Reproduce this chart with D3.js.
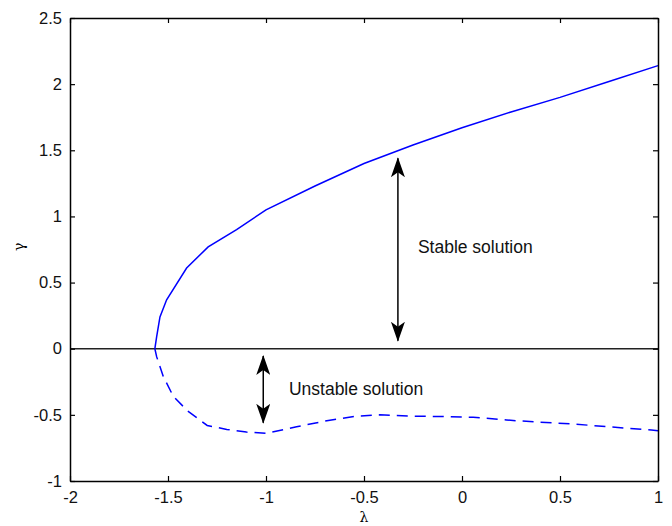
<!DOCTYPE html>
<html><head><meta charset="utf-8">
<script src="https://cdn.jsdelivr.net/npm/d3@7"></script>
<style>
body{margin:0;background:#fff;}
svg{display:block;font-family:"Liberation Sans",Arial,sans-serif;}
</style></head>
<body><svg id="c" width="672" height="526"></svg>
<script>
const xTicks = [-2, -1.5, -1, -0.5, 0, 0.5, 1];
const yTicks = [-1, -0.5, 0, 0.5, 1, 1.5, 2, 2.5];
const stableX = [-1.567, -1.558, -1.541, -1.507, -1.405, -1.295, -1.15, -1.0, -0.75, -0.5, -0.25, 0, 0.25, 0.5, 0.75, 1.0];
const stableY = [0, 0.09, 0.24, 0.37, 0.61, 0.77, 0.90, 1.05, 1.23, 1.40, 1.54, 1.67, 1.79, 1.90, 2.02, 2.14];
const unstableX = [-1.567, -1.558, -1.524, -1.473, -1.40, -1.30, -1.20, -1.10, -1.0, -0.844, -0.674, -0.538, -0.42, -0.25, -0.08, 0.057, 0.227, 0.397, 0.567, 0.737, 0.966, 1.0];
const unstableY = [0, -0.06, -0.21, -0.36, -0.47, -0.58, -0.61, -0.63, -0.64, -0.59, -0.54, -0.51, -0.50, -0.51, -0.513, -0.518, -0.539, -0.556, -0.569, -0.589, -0.614, -0.62];
const stableArrow = {x: -0.327, y0: 0.06, y1: 1.44, label: "Stable solution", lx: -0.225, ly: 0.77};
const unstableArrow = {x: -1.014, y0: -0.055, y1: -0.56, label: "Unstable solution", lx: -0.883, ly: -0.3};
const xLabel = "λ", yLabel = "γ";

const svg = d3.select("#c");
const L = 70, R = 658, T = 18, B = 481;
const x = d3.scaleLinear().domain([-2, 1]).range([L, R]);
const y = d3.scaleLinear().domain([-1, 2.5]).range([B, T]);

// zero line
svg.append("line").attr("x1", x(-2)).attr("x2", x(1)).attr("y1", y(0)).attr("y2", y(0))
  .attr("stroke", "#222").attr("stroke-width", 1.5);

const line = d3.line().x(d => x(d[0])).y(d => y(d[1]));
svg.append("path").datum(stableX.map((v, i) => [v, stableY[i]])).attr("d", line)
  .attr("fill", "none").attr("stroke", "#0000ff").attr("stroke-width", 1.5);
svg.append("path").datum(unstableX.map((v, i) => [v, unstableY[i]])).attr("d", line)
  .attr("fill", "none").attr("stroke", "#0000ff").attr("stroke-width", 1.5).attr("stroke-dasharray", "11,7");

// axes
const fs = "16.5px";
const gB = svg.append("g").attr("transform", `translate(0,${B})`).call(d3.axisBottom(x).tickValues(xTicks).tickFormat(d => String(d)).tickSizeInner(-5).tickSizeOuter(0).tickPadding(10));
const gT = svg.append("g").attr("transform", `translate(0,${T})`).call(d3.axisTop(x).tickValues(xTicks).tickFormat("").tickSizeInner(-5).tickSizeOuter(0));
const gL = svg.append("g").attr("transform", `translate(${L},0)`).call(d3.axisLeft(y).tickValues(yTicks).tickFormat(d => String(d)).tickSizeInner(-5).tickSizeOuter(0).tickPadding(8));
const gR = svg.append("g").attr("transform", `translate(${R},0)`).call(d3.axisRight(y).tickValues(yTicks).tickFormat("").tickSizeInner(-5).tickSizeOuter(0));
[gB, gT, gL, gR].forEach(g => {
  g.selectAll("path.domain").attr("stroke", "#000").attr("stroke-width", 1.5);
  g.selectAll("line").attr("stroke", "#000").attr("stroke-width", 1.2);
  g.selectAll("text").attr("font-size", fs).attr("fill", "#111").attr("font-family", "Liberation Sans, Arial, sans-serif");
});

// axis labels
svg.append("text").attr("x", x(-0.5)).attr("y", 522).attr("text-anchor", "middle")
  .attr("font-size", "14px").attr("font-family", "DejaVu Serif, serif").text(xLabel);
svg.append("text").attr("transform", `translate(24,${y(0.77)}) rotate(-90)`).attr("text-anchor", "middle")
  .attr("font-size", "14px").attr("font-family", "DejaVu Serif, serif").text(yLabel);

// arrows
const defs = svg.append("defs");
defs.append("marker").attr("id", "ah").attr("viewBox", "0 0 20 14").attr("refX", 19).attr("refY", 7)
  .attr("markerWidth", 20).attr("markerHeight", 14).attr("markerUnits", "userSpaceOnUse").attr("orient", "auto-start-reverse")
  .append("path").attr("d", "M0,0 L20,7 L0,14 L5,7 Z").attr("fill", "#000");
[stableArrow, unstableArrow].forEach(a => {
  svg.append("line").attr("x1", x(a.x)).attr("x2", x(a.x)).attr("y1", y(a.y0)).attr("y2", y(a.y1))
    .attr("stroke", "#000").attr("stroke-width", 1.5)
    .attr("marker-start", "url(#ah)").attr("marker-end", "url(#ah)");
  svg.append("text").attr("x", x(a.lx)).attr("y", y(a.ly)).attr("dy", "0.35em")
    .attr("font-size", "17.5px").attr("fill", "#111").text(a.label);
});
</script></body></html>
